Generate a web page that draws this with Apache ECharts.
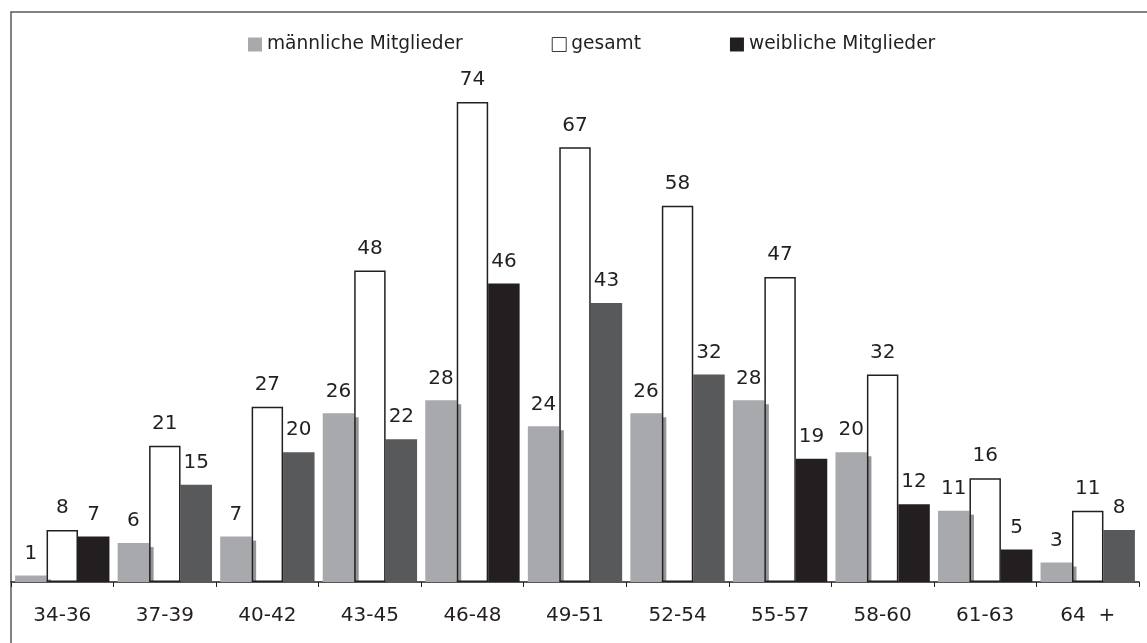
<!DOCTYPE html>
<html>
<head>
<meta charset="utf-8">
<title>Mitglieder nach Altersgruppen</title>
<script src="https://cdn.jsdelivr.net/npm/echarts@6/dist/echarts.min.js"></script>
<style>
  html, body { margin: 0; padding: 0; background: #ffffff; }
  #chart { width: 1147px; height: 643px; }
</style>
</head>
<body>
<div id="chart"></div>
<script>
// Altersgruppen
const categories = ['34-36', '37-39', '40-42', '43-45', '46-48', '49-51', '52-54', '55-57', '58-60', '61-63', '64  +'];
// Mitgliederzahlen je Gruppe
const maleValues   = [1, 6, 7, 26, 28, 24, 26, 28, 20, 11, 3];
const totalValues  = [8, 21, 27, 48, 74, 67, 58, 47, 32, 16, 11];
const femaleValues = [7, 15, 20, 22, 46, 43, 32, 19, 12, 5, 8];
// Gruppen, deren Balken "weiblich" in Schwarz statt Dunkelgrau erscheint
const femaleBlackGroups = ['34-36', '46-48', '55-57', '58-60', '61-63'];

const FONT = 'DejaVu Sans';
const TEXT = '#231f20';
const CAT_GAP = 0.08;

const chart = echarts.init(document.getElementById('chart'), null, { renderer: 'canvas' });

const valueLabel = {
  show: true,
  position: 'top',
  distance: 12,
  color: TEXT,
  fontFamily: FONT,
  fontSize: 20
};

const blackSet = new Set(femaleBlackGroups);

chart.setOption({
  animation: false,
  backgroundColor: '#ffffff',
  graphic: [{
    type: 'rect',
    shape: { x: 11, y: 12, width: 1200, height: 700 },
    style: { fill: 'none', stroke: '#5a5a5a', lineWidth: 1.5 },
    silent: true,
    z: 0
  }],
  legend: {
    data: [
      { name: 'männliche Mitglieder' },
      { name: 'gesamt', itemStyle: { borderWidth: 1, borderColor: '#3a3a3a' } },
      { name: 'weibliche Mitglieder' }
    ],
    left: 243,
    top: 30,
    itemWidth: 14,
    itemHeight: 14,
    itemGap: 89,
    icon: 'rect',
    textStyle: { fontFamily: FONT, fontSize: 18.6, color: TEXT },
    selectedMode: false
  },
  grid: { left: 11, right: 8, top: 63, bottom: 61, containLabel: false },
  xAxis: {
    type: 'category',
    data: categories,
    axisLine: { lineStyle: { color: TEXT, width: 1.5 } },
    axisTick: { show: true, length: 5, lineStyle: { color: TEXT, width: 1 } },
    axisLabel: { color: TEXT, fontFamily: FONT, fontSize: 20, margin: 24 },
    splitLine: { show: false }
  },
  yAxis: {
    type: 'value',
    min: 0,
    max: 80,
    show: false,
    splitLine: { show: false }
  },
  series: [
    {
      name: 'männliche Mitglieder',
      type: 'bar',
      data: maleValues,
      barGap: 0,
      barCategoryGap: (CAT_GAP * 100) + '%',
      itemStyle: { color: '#a7a9ac' },
      label: valueLabel,
      z: 2
    },
    {
      // schmaler Schatten rechts neben den Balken "männlich"
      name: 'schatten',
      type: 'custom',
      silent: true,
      data: maleValues.map((v, i) => [i, v]),
      renderItem(params, api) {
        const i = api.value(0);
        const v = api.value(1);
        const band = api.size([1, 0])[0];
        const barW = band * (1 - CAT_GAP) / 3;
        const base = api.coord([i, 0]);
        const top = api.coord([i, v]);
        const x = base[0] - 1.5 * barW + barW;
        const y = top[1] + 4;
        const h = Math.max(0, base[1] - y);
        return {
          type: 'rect',
          shape: { x: x, y: y, width: 4.5, height: h },
          style: { fill: '#939598' }
        };
      },
      z: 2
    },
    {
      name: 'gesamt',
      type: 'bar',
      data: totalValues,
      barGap: 0,
      itemStyle: { color: 'rgba(255,255,255,0)', borderColor: TEXT, borderWidth: 1.5 },
      label: valueLabel,
      z: 3
    },
    {
      name: 'weibliche Mitglieder',
      type: 'bar',
      data: femaleValues.map((v, i) => (
        blackSet.has(categories[i]) ? v : { value: v, itemStyle: { color: '#58595b' } }
      )),
      barGap: 0,
      itemStyle: { color: '#231f20' },
      label: valueLabel,
      z: 2
    }
  ]
});
</script>
</body>
</html>
